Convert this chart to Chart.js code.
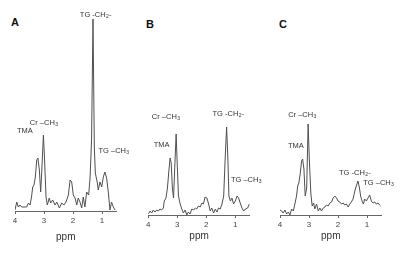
<!DOCTYPE html>
<html>
<head>
<meta charset="utf-8">
<script src="https://cdn.jsdelivr.net/npm/chart.js@4.4.1/dist/chart.umd.min.js"></script>
<style>
  html, body { margin: 0; padding: 0; background: #fff; width: 400px; height: 255px; overflow: hidden; }
  canvas { position: absolute; }
  .letter { position: absolute; font: bold 11px "Liberation Sans", Arial, sans-serif; color: #111; }
</style>
</head>
<body>
<div class="letter" style="left:11px;top:16px">A</div>
<div class="letter" style="left:146px;top:18px">B</div>
<div class="letter" style="left:279px;top:18px">C</div>
<canvas id="chart-a" width="133" height="255" style="left:0;top:0"></canvas>
<canvas id="chart-b" width="132" height="255" style="left:133px;top:4px"></canvas>
<canvas id="chart-c" width="135" height="255" style="left:265px;top:4px"></canvas>
<script>
// x ticks (ppm)
const tickPpm = [4, 3, 2, 1];

// Panel A spectrum
const ppmA = [4.00, 3.94, 3.885, 3.83, 3.77, 3.655, 3.60, 3.54, 3.48, 3.43, 3.39, 3.345, 3.30, 3.25, 3.21, 3.16, 3.115, 3.08, 3.02, 2.98, 2.93, 2.885, 2.82, 2.77, 2.70, 2.62, 2.56, 2.47, 2.39, 2.31, 2.24, 2.16, 2.10, 2.045, 1.99, 1.93, 1.87, 1.82, 1.76, 1.70, 1.645, 1.59, 1.53, 1.46, 1.41, 1.36, 1.31, 1.265, 1.23, 1.16, 1.13, 1.07, 1.01, 0.955, 0.90, 0.84, 0.78, 0.725, 0.67, 0.61, 0.55];
const intA = [1, 9, 4, 6, 4, 4, 4, 8, 6, 14, 24, 26, 34, 51, 53, 41, 19, 38, 76, 51, 14, 6, 13, 8, 11, 6, 9, 3, 8, 6, 9, 16, 31, 29, 16, 13, 6, 13, 9, 3, 14, 4, 19, 16, 34, 71, 192, 64, 38, 28, 21, 29, 24, 34, 39, 33, 18, 1, 9, 4, 1];

// Panel B spectrum
const ppmB = [4.00, 3.94, 3.88, 3.83, 3.77, 3.71, 3.65, 3.60, 3.54, 3.48, 3.45, 3.39, 3.34, 3.30, 3.25, 3.21, 3.17, 3.13, 3.09, 3.04, 3.00, 2.96, 2.90, 2.845, 2.79, 2.73, 2.67, 2.62, 2.56, 2.50, 2.44, 2.38, 2.33, 2.27, 2.21, 2.15, 2.10, 2.04, 1.98, 1.92, 1.865, 1.81, 1.75, 1.69, 1.63, 1.58, 1.52, 1.46, 1.40, 1.35, 1.30, 1.255, 1.22, 1.17, 1.115, 1.06, 1.00, 0.94, 0.885, 0.83, 0.77, 0.71, 0.655, 0.575, 0.515];
const intB = [1, 4, 2, 5, 3, 5, 4, 6, 5, 7, 14, 17, 27, 41, 57, 52, 27, 17, 46, 81, 49, 19, 11, 6, 2, 5, 0, 3, 1, 6, 5, 7, 6, 9, 8, 12, 11, 18, 17, 11, 4, 7, 2, 6, 3, 7, 6, 11, 19, 56, 88, 56, 19, 14, 17, 11, 14, 19, 17, 12, 7, 4, 6, 7, 11];

// Panel C spectrum
const ppmC = [4.00, 3.94, 3.89, 3.83, 3.77, 3.71, 3.66, 3.60, 3.54, 3.48, 3.43, 3.39, 3.35, 3.30, 3.255, 3.22, 3.175, 3.13, 3.08, 3.03, 2.99, 2.935, 2.89, 2.84, 2.80, 2.74, 2.68, 2.625, 2.57, 2.51, 2.45, 2.40, 2.34, 2.28, 2.22, 2.17, 2.11, 2.05, 2.00, 1.94, 1.88, 1.82, 1.77, 1.71, 1.65, 1.59, 1.54, 1.48, 1.42, 1.37, 1.31, 1.26, 1.22, 1.17, 1.125, 1.08, 1.02, 0.965, 0.91, 0.85, 0.79, 0.735, 0.68, 0.62, 0.565, 0.53];
const intC = [5, 4, 2, 5, 1, 3, 0, 6, 4, 12, 19, 29, 32, 42, 54, 56, 46, 19, 27, 91, 56, 21, 9, 12, 6, 11, 4, 7, 4, 7, 8, 10, 9, 12, 13, 17, 19, 17, 14, 13, 11, 12, 10, 11, 8, 11, 13, 16, 24, 29, 34, 27, 19, 14, 11, 16, 14, 17, 20, 14, 12, 13, 11, 12, 10, 9];

// peak labels: [text, subscript, suffix, ppm, height]
const notesA = [["TMA", "", "", 3.66, 80], ["Cr \u2013CH", "3", "", 3.0, 88], ["TG -CH", "2", "-", 1.22, 196], ["TG \u2013CH", "3", "", 0.59, 60]];
const notesB = [["TMA", "", "", 3.54, 70], ["Cr \u2013CH", "3", "", 3.39, 98], ["TG -CH", "2", "-", 1.24, 101], ["TG \u2013CH", "3", "", 0.62, 35]];
const notesC = [["TMA", "", "", 3.45, 69], ["Cr \u2013CH", "3", "", 3.23, 100], ["TG -CH", "2", "-", 1.42, 42], ["TG \u2013CH", "3", "", 0.60, 32]];

const fontFam = '"Liberation Sans", Arial, sans-serif';

// draws the peak labels at data positions
const notePlugin = {
    id: 'notes',
    afterDatasetsDraw(chart, args, opts) {
        const ctx = chart.ctx;
        const xs = chart.scales.x, ys = chart.scales.y;
        ctx.save();
        ctx.fillStyle = '#333';
        ctx.textBaseline = 'middle';
        opts.list.forEach(n => {
            const big = '7.5px ' + fontFam, small = '5px ' + fontFam;
            ctx.font = big;
            const w1 = ctx.measureText(n[0]).width;
            const w3 = ctx.measureText(n[2]).width;
            ctx.font = small;
            const w2 = n[1] ? ctx.measureText(n[1]).width + 0.5 : 0;
            let x = xs.getPixelForValue(n[3]) - (w1 + w2 + w3) / 2;
            const y = ys.getPixelForValue(n[4]);
            ctx.textAlign = 'left';
            ctx.font = big;
            ctx.fillText(n[0], x, y);
            x += w1;
            if (n[1]) {
                ctx.font = small;
                ctx.fillText(n[1], x + 0.3, y + 2);
                x += w2;
            }
            ctx.font = big;
            ctx.fillText(n[2], x, y);
        });
        ctx.restore();
    }
};

function makePanel(id, ppm, vals, notes, padLeft, padRight, titleBottom) {
    return new Chart(document.getElementById(id), {
        type: 'line',
        data: {
            datasets: [{
                data: ppm.map((p, i) => ({ x: p, y: vals[i] })),
                borderColor: '#505050',
                borderWidth: 1,
                pointRadius: 0,
                tension: 0,
                fill: false
            }]
        },
        options: {
            responsive: false,
            animation: false,
            events: [],
            layout: { padding: { left: padLeft, right: padRight, top: 11, bottom: 0 } },
            scales: {
                x: {
                    type: 'linear',
                    reverse: true,
                    min: 0.5,
                    max: 4,
                    afterBuildTicks: s => { s.ticks = tickPpm.map(v => ({ value: v })); },
                    afterFit: s => { s.height = 44; },
                    border: { color: '#666', width: 1 },
                    grid: { drawOnChartArea: false, tickLength: 3, color: '#666' },
                    ticks: { color: '#444', padding: 2, maxRotation: 0, font: { size: 8, family: fontFam } },
                    title: { display: true, text: 'ppm', color: '#333', padding: { top: 3, bottom: titleBottom }, font: { size: 10, family: fontFam } }
                },
                y: { display: false, min: 0, max: 200 }
            },
            plugins: {
                legend: { display: false },
                tooltip: { enabled: false },
                notes: { list: notes }
            }
        },
        plugins: [notePlugin]
    });
}

makePanel('chart-a', ppmA, intA, notesA, 15, 16.5, 12);
makePanel('chart-b', ppmB, intB, notesB, 15.3, 15.2, 17);
makePanel('chart-c', ppmC, intC, notesC, 15, 18.5, 17);
</script>
</body>
</html>
